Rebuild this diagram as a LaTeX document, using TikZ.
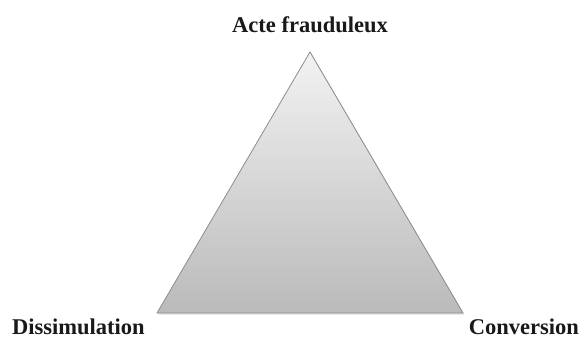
\documentclass[tikz,border=0pt]{standalone}
\usepackage{fontspec}
\setmainfont{Liberation Serif}
\begin{document}
\begin{tikzpicture}[x=1pt,y=1pt,
  lbl/.style={font=\fontsize{22.5}{26}\selectfont\bfseries, text=black!90, inner sep=0pt}]
\useasboundingbox (0,0) rectangle (582,338);
\coordinate (top) at (310,286);
\coordinate (bl) at (157,25);
\coordinate (br) at (463,25);
\fill[black!12] ([shift={(1.5,-1.5)}]top) -- ([shift={(1.5,-1.5)}]br) -- ([shift={(1.5,-1.5)}]bl) -- cycle;
\shade[top color=black!5, bottom color=black!27, draw=black!45, line width=0.8pt, line join=round] (top) -- (br) -- (bl) -- cycle;
\node[lbl, anchor=base] (acte) at (310,305) {Acte frauduleux};
\node[lbl, anchor=base west] (dis) at (12,4) {Dissimulation};
\node[lbl, anchor=base east] (conv) at (579,4) {Conversion};
\end{tikzpicture}
\end{document}
